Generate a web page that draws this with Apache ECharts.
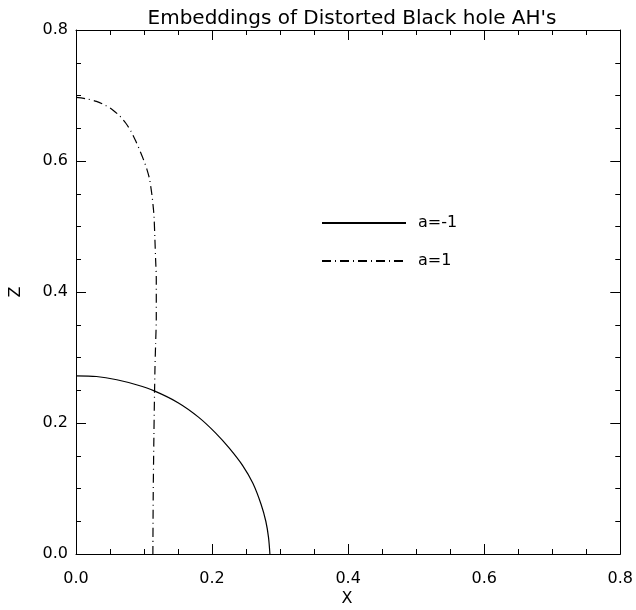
<!DOCTYPE html>
<html>
<head>
<meta charset="utf-8">
<script src="https://cdn.jsdelivr.net/npm/echarts@6/dist/echarts.min.js"></script>
<style>
  html, body { margin: 0; padding: 0; background: #fff; }
  #chart { width: 636px; height: 610px; }
</style>
</head>
<body>
<div id="chart"></div>
<script>
// curve a = -1 (solid), [x, z]
const ahMinusX = [0, 0.03, 0.06, 0.09, 0.115, 0.15, 0.18, 0.205, 0.225, 0.245, 0.26, 0.272, 0.279, 0.283, 0.285]
const ahMinusZ = [0.272, 0.271, 0.266, 0.258, 0.249, 0.231, 0.209, 0.185, 0.162, 0.135, 0.108, 0.076, 0.05, 0.025, 0]

// curve a = 1 (dash-dot)
const ahPlusX = [0, 0.015, 0.03, 0.043, 0.054, 0.064, 0.073, 0.081, 0.088, 0.095, 0.1, 0.104, 0.108, 0.11, 0.112, 0.1135, 0.1147, 0.116, 0.117, 0.118, 0.118, 0.117, 0.116, 0.1145, 0.1135, 0.113]
const ahPlusZ = [0.697, 0.695, 0.691, 0.685, 0.678, 0.669, 0.658, 0.645, 0.630, 0.613, 0.600, 0.588, 0.573, 0.560, 0.545, 0.530, 0.515, 0.48, 0.45, 0.42, 0.36, 0.32, 0.28, 0.18, 0.09, 0]

const seriesNames = ['a=-1', 'a=1']
const tickLabels = ['0.0', '0.2', '0.4', '0.6', '0.8']

const toPairs = (xs, zs) => xs.map((x, i) => [x, zs[i]])

const chart = echarts.init(document.getElementById('chart'))

const fontFamily = 'DejaVu Sans'
const ink = '#000'

const labelFmt = (v) => tickLabels[Math.round(v / 0.2)]

// fresh object for every axis, box style with inward ticks
const makeAxis = (position, extra) => ({
  type: 'value',
  position,
  min: 0,
  max: 0.8,
  interval: 0.2,
  axisLine: { show: true, onZero: false, lineStyle: { color: ink, width: 1 } },
  axisTick: { show: true, inside: true, length: 10, lineStyle: { color: ink, width: 1 } },
  minorTick: { show: true, splitNumber: 4, length: 5, lineStyle: { color: ink, width: 1 } },
  splitLine: { show: false },
  axisLabel: { show: false },
  ...extra
})

const option = {
  animation: false,
  backgroundColor: '#fff',
  title: [
    {
      text: "Embeddings of Distorted Black hole AH's",
      left: 347,
      textAlign: 'center',
      top: 4,
      textStyle: { fontFamily, fontSize: 20, fontWeight: 'normal', color: ink }
    },
    {
      // x axis name, placed under the axis labels
      text: 'X',
      left: 347,
      textAlign: 'center',
      top: 591,
      padding: 0,
      textStyle: { fontFamily, fontSize: 16, fontWeight: 'normal', color: ink }
    }
  ],
  legend: {
    orient: 'vertical',
    left: 321,
    top: 215,
    padding: 0,
    itemWidth: 84,
    itemHeight: 16,
    itemGap: 22,
    itemStyle: { opacity: 0 },
    textStyle: { fontFamily, fontSize: 16, color: ink, padding: [0, 0, 0, 7] },
    data: seriesNames
  },
  grid: { left: 73, right: 14, top: 30, bottom: 56 },
  xAxis: [
    makeAxis('bottom', {
      axisLabel: { show: true, fontFamily, fontSize: 16, color: ink, margin: 17, formatter: labelFmt }
    }),
    makeAxis('top', {})
  ],
  yAxis: [
    makeAxis('left', {
      name: 'Z',
      nameLocation: 'middle',
      nameGap: 52,
      nameTextStyle: { fontFamily, fontSize: 16, color: ink },
      axisLabel: { show: true, fontFamily, fontSize: 16, color: ink, margin: 8, formatter: labelFmt }
    }),
    makeAxis('right', {})
  ],
  series: [
    {
      name: seriesNames[0],
      type: 'line',
      data: toPairs(ahMinusX, ahMinusZ),
      symbol: 'none',
      smooth: 0.3,
      lineStyle: { color: ink, width: 1.2, type: 'solid' },
      itemStyle: { color: ink }
    },
    {
      name: seriesNames[1],
      type: 'line',
      data: toPairs(ahPlusX, ahPlusZ),
      symbol: 'none',
      smooth: 0.3,
      lineStyle: { color: ink, width: 1.2, type: [9, 4, 1, 4] },
      itemStyle: { color: ink }
    }
  ]
}

chart.setOption(option)
window.addEventListener('resize', () => chart.resize())
</script>
</body>
</html>
